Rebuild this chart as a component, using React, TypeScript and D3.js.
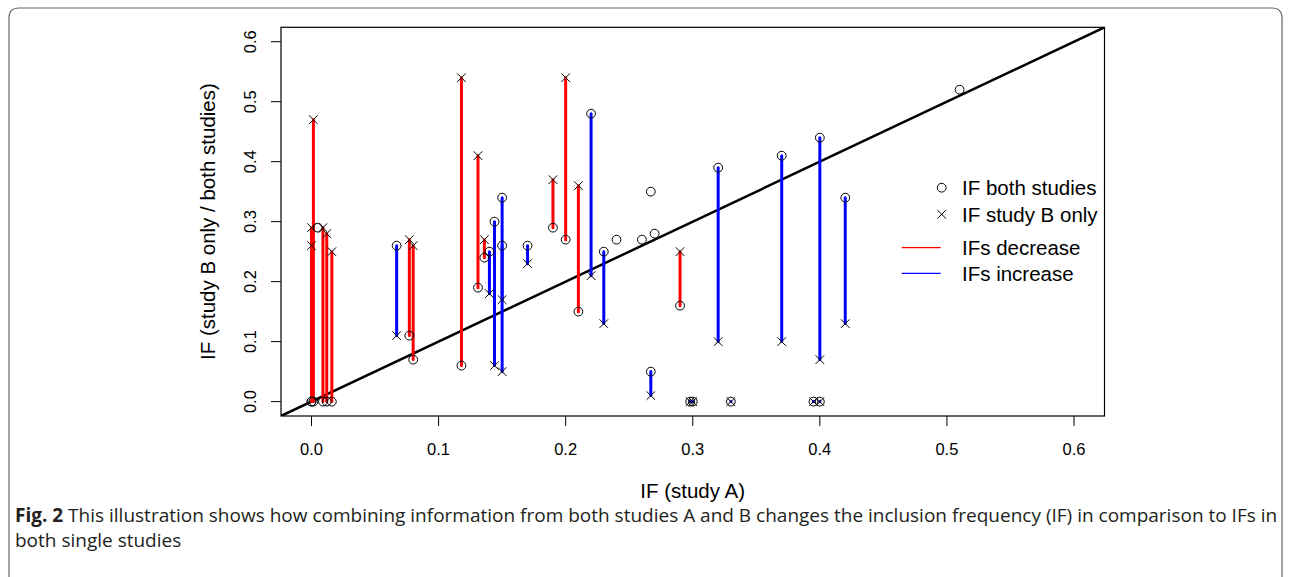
import * as d3 from "d3";

// IF in study A (x), IF in both studies (circle), IF in study B only (cross, null = none)
const ifStudyA = [
  0.0, 0.0, 0.0015, 0.009, 0.012, 0.016, 0.005, 0.067, 0.077, 0.08, 0.118, 0.131, 0.136,
  0.14, 0.144, 0.15, 0.15, 0.17, 0.19, 0.2, 0.21, 0.22, 0.23, 0.24, 0.26, 0.267, 0.27,
  0.267, 0.29, 0.298, 0.3, 0.33, 0.395, 0.4, 0.32, 0.37, 0.4, 0.42, 0.51,
];
const ifBoth = [
  0.0, 0.0, 0.0, 0.0, 0.0, 0.0, 0.29, 0.26, 0.11, 0.07, 0.06, 0.19, 0.24,
  0.25, 0.3, 0.34, 0.26, 0.26, 0.29, 0.27, 0.15, 0.48, 0.25, 0.27, 0.27, 0.35, 0.28,
  0.05, 0.16, 0.0, 0.0, 0.0, 0.0, 0.0, 0.39, 0.41, 0.44, 0.34, 0.52,
];
const ifStudyB: (number | null)[] = [
  0.29, 0.26, 0.47, 0.29, 0.28, 0.25, null, 0.11, 0.27, 0.26, 0.54, 0.41, 0.27,
  0.18, 0.06, 0.05, 0.17, 0.23, 0.37, 0.54, 0.36, 0.21, 0.13, null, null, null, null,
  0.01, 0.25, 0.0, 0.0, 0.0, 0.0, 0.0, 0.1, 0.1, 0.07, 0.13, null,
];
const tickValues = [0, 0.1, 0.2, 0.3, 0.4, 0.5, 0.6];

const W = 1290,
  H = 577;

export default function App() {
  // R style range: 0..0.6 extended 4%
  const x = d3.scaleLinear().domain([-0.024, 0.624]).range([281, 1104.5]);
  const y = d3.scaleLinear().domain([-0.024, 0.624]).range([416, 27.3]);
  const fmt = d3.format(".1f");
  const r = 4.4,
    cs = 4.3;

  const rows = ifStudyA.map((a, i) => ({ a, both: ifBoth[i], b: ifStudyB[i] }));
  const [x0, x1] = x.domain();

  return (
    <svg width={W} height={H} style={{ position: "absolute", left: 0, top: 0 }} fontFamily="'Liberation Sans', Arial, sans-serif">
      <rect width={W} height={H} fill="#fff" />
      <path d="M9,577 V18 Q9,8 19,8 H1272 Q1282,8 1282,18 V577" fill="none" stroke="#666" strokeWidth={1.2} />

      <defs>
        <clipPath id="plotclip">
          <rect x={281} y={27.3} width={823.5} height={388.7} />
        </clipPath>
      </defs>

      {/* diagonal y = x */}
      <line
        x1={x(x0)} y1={y(x0)} x2={x(x1)} y2={y(x1)}
        stroke="#000" strokeWidth={2.5} clipPath="url(#plotclip)"
      />

      {/* segments */}
      {rows.map((d, i) =>
        d.b === null ? null : (
          <line
            key={"s" + i}
            x1={x(d.a)} x2={x(d.a)} y1={y(d.both)} y2={y(d.b)}
            stroke={d.both >= d.b ? "#0000ff" : "#ff0000"}
            strokeWidth={3}
            strokeLinecap="round"
          />
        )
      )}

      {/* circles: IF both studies */}
      {rows.map((d, i) => (
        <circle key={"c" + i} cx={x(d.a)} cy={y(d.both)} r={r} fill="none" stroke="#000" strokeWidth={1} />
      ))}

      {/* crosses: IF study B only */}
      {rows.map((d, i) =>
        d.b === null ? null : (
          <path
            key={"x" + i}
            d={`M${x(d.a) - cs},${y(d.b) - cs}L${x(d.a) + cs},${y(d.b) + cs}M${x(d.a) - cs},${y(d.b) + cs}L${x(d.a) + cs},${y(d.b) - cs}`}
            stroke="#000" strokeWidth={1} fill="none"
          />
        )
      )}

      <rect x={281} y={27.3} width={823.5} height={388.7} fill="none" stroke="#000" strokeWidth={1.2} />

      {/* x axis */}
      {tickValues.map((t) => (
        <g key={"xt" + t}>
          <line x1={x(t)} x2={x(t)} y1={416} y2={426} stroke="#000" />
          <text x={x(t)} y={449} textAnchor="middle" dominantBaseline="central" fontSize={16.5}>
            {fmt(t)}
          </text>
        </g>
      ))}
      {/* y axis */}
      {tickValues.map((t) => (
        <g key={"yt" + t}>
          <line x1={271} x2={281} y1={y(t)} y2={y(t)} stroke="#000" />
          <text
            transform={`translate(250,${y(t)}) rotate(-90)`}
            textAnchor="middle" dominantBaseline="central" fontSize={16.5}
          >
            {fmt(t)}
          </text>
        </g>
      ))}

      <text x={692.7} y={490} textAnchor="middle" dominantBaseline="central" fontSize={20.5}>
        IF (study A)
      </text>
      <text
        transform={`translate(207,221.6) rotate(-90)`}
        textAnchor="middle" dominantBaseline="central" fontSize={20.5}
      >
        IF (study B only / both studies)
      </text>

      {/* legend */}
      <circle cx={941.7} cy={187.7} r={r} fill="none" stroke="#000" />
      <path d={`M${941.7 - cs},${214.3 - cs}L${941.7 + cs},${214.3 + cs}M${941.7 - cs},${214.3 + cs}L${941.7 + cs},${214.3 - cs}`} stroke="#000" />
      <text x={962} y={187.7} dominantBaseline="central" fontSize={20.5}>IF both studies</text>
      <text x={962} y={214.3} dominantBaseline="central" fontSize={20.5}>IF study B only</text>
      <line x1={901.7} x2={940.7} y1={247.7} y2={247.7} stroke="#ff0000" strokeWidth={1.3} />
      <line x1={901.7} x2={940.7} y1={273.3} y2={273.3} stroke="#0000ff" strokeWidth={1.3} />
      <text x={962} y={247.7} dominantBaseline="central" fontSize={20.5}>IFs decrease</text>
      <text x={962} y={273.3} dominantBaseline="central" fontSize={20.5}>IFs increase</text>

      {/* caption */}
      <text x={15} y={522} fontSize={19} fontFamily="'Open Sans', sans-serif" fill="#231f20">
        <tspan fontWeight="bold">Fig. 2</tspan> This illustration shows how combining information from both studies A and B changes the inclusion frequency (IF) in comparison to IFs in
      </text>
      <text x={15} y={547} fontSize={19} fontFamily="'Open Sans', sans-serif" fill="#231f20">
        both single studies
      </text>
    </svg>
  );
}
